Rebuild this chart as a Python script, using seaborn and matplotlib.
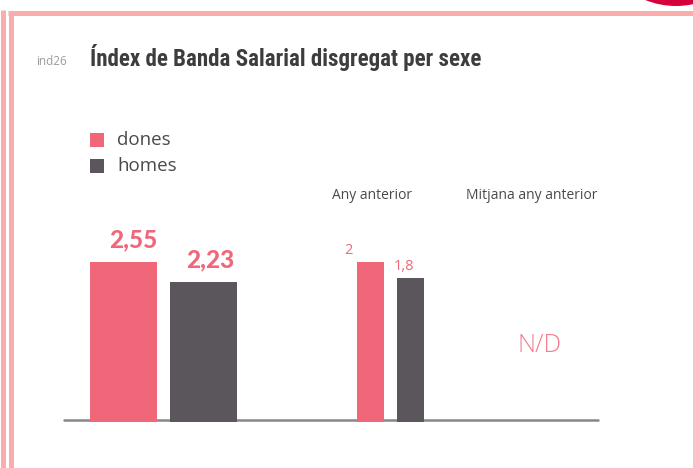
import matplotlib
matplotlib.use("Agg")
import matplotlib.pyplot as plt
import seaborn as sns
import pandas as pd
from matplotlib.lines import Line2D
from matplotlib.patches import Rectangle, Ellipse

# === Data ===
sexes = ["dones", "homes"]
current_values = [2.55, 2.23]
current_labels = ["2,55", "2,23"]
previous_values = [2.0, 1.8]
previous_labels = ["2", "1,8"]
group_titles = ["Any anterior", "Mitjana any anterior"]
average_text = "N/D"

title = "Índex de Banda Salarial disgregat per sexe"
code = "ind26"

pink = "#F0677A"
grey = "#5A565B"
palette = [pink, grey]

W, H = 693, 468


def fx(x):
    return x / W


def fy(y):
    return 1 - y / H


sns.set_style("white")
plt.rcParams["font.family"] = ["Open Sans", "DejaVu Sans"]

fig = plt.figure(figsize=(W / 100, H / 100), dpi=100)

# === Frame decoration ===
border = "#F9ADAD"
for x0, y0 in [(2.5, 10), (10.5, 15)]:
    fig.add_artist(Line2D([fx(x0), fx(x0)], [fy(y0), 0], color=border, lw=3.6,
                          solid_capstyle="butt"))
fig.add_artist(Line2D([fx(8), 1], [fy(12.5), fy(12.5)], color=border, lw=3.6,
                      solid_capstyle="butt"))
fig.add_artist(Ellipse((fx(676), fy(-76)), 2 * 82 / W, 2 * 82 / H,
                       color="#D6003C", lw=0))

# === Title ===
fig.text(fx(36), fy(65), code, fontsize=8.5, color="#9a9a9a", va="baseline")
fig.text(fx(90), fy(66), title, fontsize=16.5, fontweight="bold", color="#3d3d3d",
         va="baseline",
         family=["Roboto Condensed", "Liberation Sans Narrow", "Roboto", "DejaVu Sans"])

# === Legend ===
leg_y = [140, 166]
for name, col, y in zip(sexes, palette, leg_y):
    fig.add_artist(Rectangle((fx(90), fy(y + 7)), 14 / W, 14 / H, color=col, lw=0))
    fig.text(fx(117), fy(y), name, fontsize=13.5, color="#4a4a4a", va="center")

# === Baseline ===
base = 422
fig.add_artist(Line2D([fx(64), fx(598)], [fy(419.7), fy(419.7)], color="#878787",
                      lw=1.8, zorder=0))

# === Current year bars ===
ax1 = fig.add_axes([fx(83.5), fy(base), 160 / W, 200 / H])
df_cur = pd.DataFrame({"sexe": sexes, "valor": current_values})
sns.barplot(data=df_cur, x="sexe", y="valor", hue="sexe", palette=palette,
            width=67 / 80, legend=False, ax=ax1, saturation=1, linewidth=0)
ax1.set_xlim(-0.5, 1.5)
ax1.set_ylim(0, max(current_values) * 1.25)
ax1.axis("off")
ax1.patch.set_alpha(0)
for i, (v, lab) in enumerate(zip(current_values, current_labels)):
    ax1.annotate(lab, xy=(i + 67 / 160, v), xytext=(0 - 3 * i, 15),
                 textcoords="offset pixels", ha="right", va="baseline",
                 fontsize=17.5, fontweight=900, color=pink,
                 family=["Lato", "DejaVu Sans"])

# === Previous year bars ===
ax2 = fig.add_axes([fx(350.5), fy(base), 80 / W, 200 / H])
df_prev = pd.DataFrame({"sexe": sexes, "valor": previous_values})
sns.barplot(data=df_prev, x="sexe", y="valor", hue="sexe", palette=palette,
            width=27 / 40, legend=False, ax=ax2, saturation=1, linewidth=0)
ax2.set_xlim(-0.5, 1.5)
ax2.set_ylim(0, max(previous_values) * 1.25)
ax2.axis("off")
ax2.patch.set_alpha(0)
label_shift = [-22, -6.5]
for i, (v, lab) in enumerate(zip(previous_values, previous_labels)):
    ax2.annotate(lab, xy=(i, v), xytext=(label_shift[i], 8.5),
                 textcoords="offset pixels", ha="center", va="baseline",
                 fontsize=10.5, color=pink)

# === Group headers ===
for label, xc in zip(group_titles, [372, 532]):
    fig.text(fx(xc), fy(195), label, fontsize=10, color="#4a4a4a",
             ha="center", va="center")
fig.text(fx(540), fy(345), average_text, fontsize=18, color="#F37F8E",
         ha="center", va="center", fontweight="light")

plt.savefig("out.png", dpi=100)
plt.close()
